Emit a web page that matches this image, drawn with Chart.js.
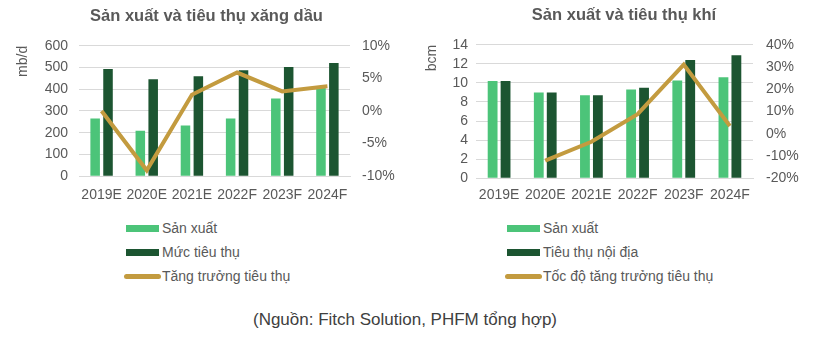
<!DOCTYPE html>
<html>
<head>
<meta charset="utf-8">
<script src="https://cdn.jsdelivr.net/npm/chart.js@4"></script>
<style>
  body { margin: 0; background: #fff; font-family: "Liberation Sans", Arial, sans-serif; }
  #page { position: relative; width: 826px; height: 338px; overflow: hidden; }
  .box { position: absolute; top: 0; }
  .legend { position: absolute; color: #595959; font-size: 14px; }
  .legend div { height: 24px; display: flex; align-items: center; }
  .legend .mk { width: 37px; height: 24px; position: relative; flex: none; margin-right: 1px; }
  .legend .mk i { position: absolute; display: block; }
  #source { position: absolute; top: 310px; left: 0; width: 810px; text-align: center; font-size: 17px; color: #404040; }
</style>
</head>
<body>
<div id="page">
  <div class="box" style="left:0;width:400px;height:215px"><canvas id="oil"></canvas></div>
  <div class="box" style="left:400px;width:426px;height:213px"><canvas id="gas"></canvas></div>
  <div class="legend" id="legOil" style="left:124px;top:216px"></div>
  <div class="legend" id="legGas" style="left:505px;top:216px"></div>
  <div id="source">(Nguồn: Fitch Solution, PHFM tổng hợp)</div>
</div>
<script>
const years = ['2019E', '2020E', '2021E', '2022F', '2023F', '2024F']

// xăng dầu (mb/d)
const oilProd = [265, 209, 233, 265, 358, 409]
const oilCons = [493, 446, 460, 488, 502, 521]
const oilGrowth = [0.0, -9.1, 2.5, 5.9, 3.0, 3.8]
const oilLabels = ['Sản xuất', 'Mức tiêu thụ', 'Tăng trưởng tiêu thụ']

// khí (bcm)
const gasProd = [10.2, 9.0, 8.7, 9.3, 10.25, 10.6]
const gasCons = [10.2, 9.0, 8.7, 9.5, 12.4, 12.9]
const gasGrowth = [null, -12.1, -3.6, 8.8, 31.1, 3.5]
const gasLabels = ['Sản xuất', 'Tiêu thụ nội địa', 'Tốc độ tăng trưởng tiêu thụ']

const LIGHT = '#4cc479'
const DARK = '#1c5531'
const GOLD = '#c39b3f'
const TXT = '#595959'

Chart.defaults.font.family = "'Liberation Sans', Arial, sans-serif"
Chart.defaults.color = TXT
Chart.defaults.animation = false

function makeChart (id, cfg) {
  const fixW = w => axis => { axis.width = w }
  return new Chart(document.getElementById(id), {
    type: 'bar',
    data: {
      labels: years,
      datasets: [
        { label: cfg.labels[0], data: cfg.prod, backgroundColor: LIGHT, order: 1, yAxisID: 'y', barPercentage: cfg.bp, categoryPercentage: cfg.cp },
        { label: cfg.labels[1], data: cfg.cons, backgroundColor: DARK, order: 1, yAxisID: 'y', barPercentage: cfg.bp, categoryPercentage: cfg.cp },
        { type: 'line', label: cfg.labels[2], data: cfg.growth, borderColor: GOLD, borderWidth: 4, pointRadius: 0, order: 0, yAxisID: 'y1', spanGaps: false }
      ]
    },
    options: {
      responsive: true,
      maintainAspectRatio: false,
      layout: { padding: { left: cfg.padL, right: 0, top: 4, bottom: 0 } },
      plugins: {
        legend: { display: false },
        tooltip: { enabled: false },
        title: { display: true, text: cfg.title, color: TXT, font: { size: 16.5, weight: 'bold' }, padding: { top: cfg.tTop, bottom: cfg.tBot } }
      },
      scales: {
        x: {
          grid: { display: false, drawTicks: false },
          border: { color: '#d9d9d9' },
          ticks: { font: { size: 14 }, padding: cfg.xPad, maxRotation: 0, autoSkip: false }
        },
        y: {
          min: cfg.left[0], max: cfg.left[1],
          ticks: { stepSize: cfg.left[2], font: { size: 14 }, padding: cfg.yPad, autoSkip: false },
          grid: { color: '#d9d9d9', drawTicks: false },
          border: { display: false },
          title: { display: true, text: cfg.unit, align: 'end', font: { size: 14 }, padding: 2 },
          afterFit: fixW(cfg.yW)
        },
        y1: {
          position: 'right',
          min: cfg.right[0], max: cfg.right[1],
          ticks: { stepSize: cfg.right[2], font: { size: 14 }, padding: cfg.y1Pad, autoSkip: false, callback: v => v + '%' },
          grid: { display: false, drawTicks: false },
          border: { display: false },
          afterFit: fixW(cfg.y1W)
        }
      }
    }
  })
}

makeChart('oil', {
  title: 'Sản xuất và tiêu thụ xăng dầu', labels: oilLabels, prod: oilProd, cons: oilCons, growth: oilGrowth,
  left: [0, 600, 100], right: [-10, 10, 5], unit: 'mb/d',
  padL: 13, yW: 66, yPad: 11, y1W: 50, y1Pad: 12, tTop: 3, tBot: 19, xPad: 11, bp: 0.74, cp: 0.57
})
makeChart('gas', {
  title: 'Sản xuất và tiêu thụ khí', labels: gasLabels, prod: gasProd, cons: gasCons, growth: gasGrowth,
  left: [0, 14, 2], right: [-20, 40, 10], unit: 'bcm',
  padL: 22, yW: 54, yPad: 8, y1W: 73, y1Pad: 13, tTop: 2, tBot: 19, xPad: 9, bp: 0.76, cp: 0.56
})

function legend (id, labels) {
  const marks = [
    '<i style="left:2px;top:9px;width:33px;height:7px;background:' + LIGHT + '"></i>',
    '<i style="left:2px;top:9px;width:33px;height:7px;background:' + DARK + '"></i>',
    '<i style="left:0;top:10px;width:37px;height:5px;border-radius:3px;background:' + GOLD + '"></i>'
  ]
  document.getElementById(id).innerHTML = labels.map((l, i) =>
    '<div><span class="mk">' + marks[i] + '</span><span>' + l + '</span></div>').join('')
}
legend('legOil', oilLabels)
legend('legGas', gasLabels)
</script>
</body>
</html>
